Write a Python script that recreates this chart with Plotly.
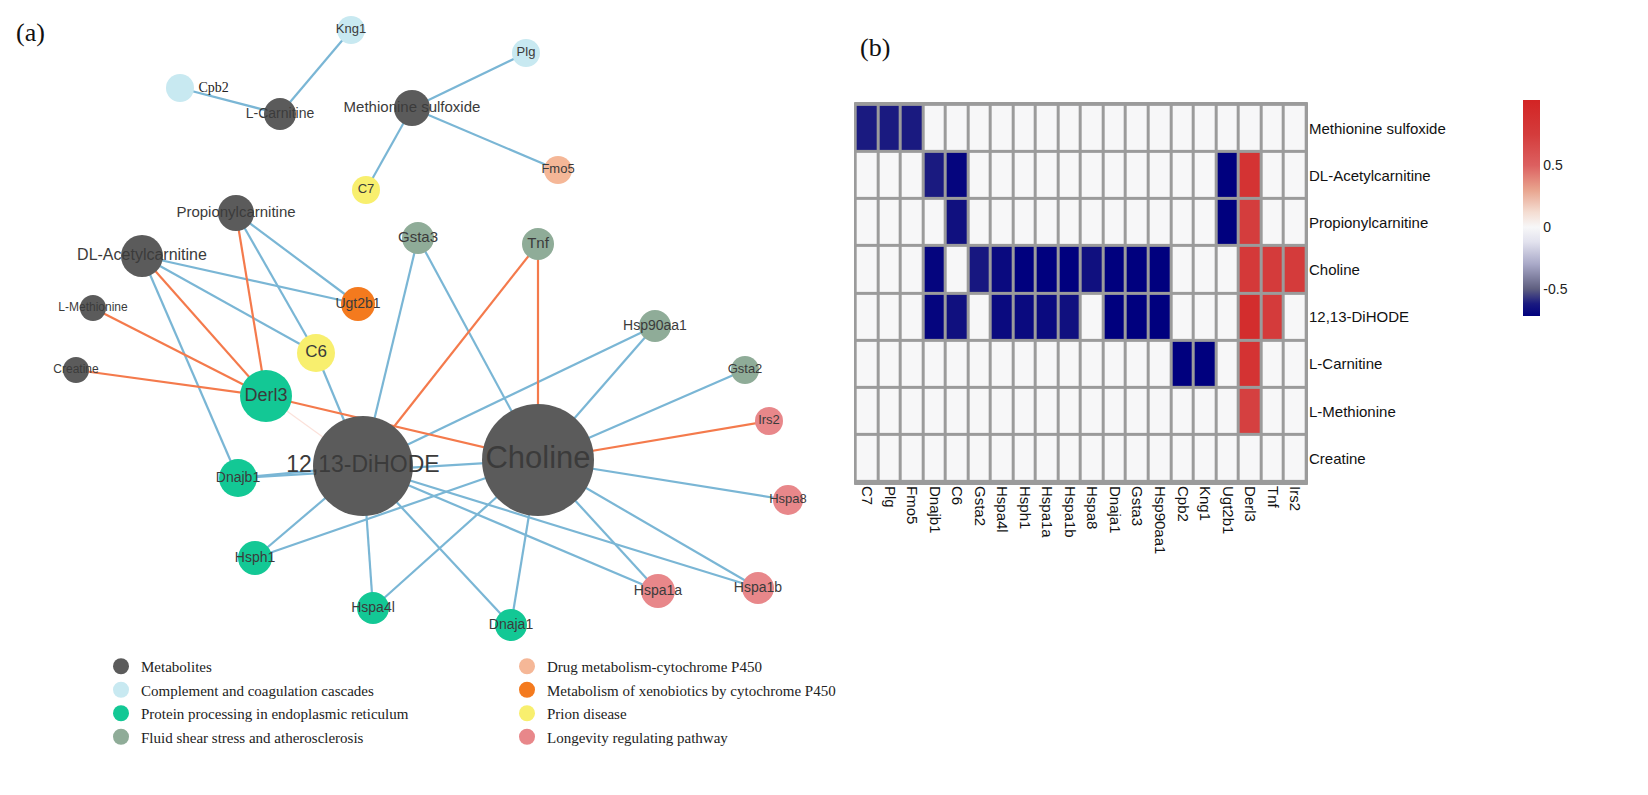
import plotly.graph_objects as go

W, H = 1648, 795

# ---------------- (a) network data ----------------
node_names = ["L-Carnitine", "Methionine sulfoxide", "Propionylcarnitine", "DL-Acetylcarnitine",
              "L-Methionine", "Creatine", "12,13-DiHODE", "Choline",
              "Kng1", "Cpb2", "Plg", "C7", "Fmo5", "Gsta3", "Tnf", "Ugt2b1", "C6", "Hsp90aa1",
              "Gsta2", "Derl3", "Irs2", "Dnajb1", "Hspa8", "Hsph1", "Hspa1a", "Hspa1b", "Hspa4l", "Dnaja1"]
node_x = [272, 404, 228, 134, 85, 68, 355, 530,
          343, 172, 518, 358, 550, 410, 530, 350, 308, 647,
          737, 258, 761, 230, 780, 247, 650, 750, 365, 503]
node_y = [106, 100, 205, 248, 300, 362, 458, 452,
          22, 80, 45, 182, 162, 230, 236, 296, 345, 318,
          362, 388, 413, 470, 492, 550, 583, 580, 600, 617]
node_diam = [32, 36, 36, 42, 26, 26, 100, 112,
             28, 28, 28, 28, 28, 32, 32, 34, 38, 32,
             28, 52, 28, 38, 30, 34, 34, 32, 32, 32]
node_group = [0, 0, 0, 0, 0, 0, 0, 0,
              1, 1, 1, 6, 4, 3, 3, 5, 6, 3,
              3, 2, 7, 2, 7, 2, 7, 7, 2, 2]
label_size = [14, 15, 15, 16, 12, 12, 23, 31,
              13, 14, 13, 13, 13, 15, 15, 14, 17, 14,
              13, 18, 13, 14, 13, 14, 14, 14, 14, 14]

group_names = ["Metabolites", "Complement and coagulation cascades",
               "Protein processing in endoplasmic reticulum", "Fluid shear stress and atherosclerosis",
               "Drug metabolism-cytochrome P450", "Metabolism of xenobiotics by cytochrome P450",
               "Prion disease", "Longevity regulating pathway"]
group_colors = ["#5b5b5b", "#c8e9f1", "#13c895", "#8fac98",
                "#f5b797", "#f47a1e", "#f8ef6e", "#e8878a"]

edge_a = ["Cpb2", "Kng1", "Plg", "C7", "Fmo5",
          "Ugt2b1", "C6", "Derl3",
          "Ugt2b1", "C6", "Derl3", "Dnajb1",
          "Derl3", "Derl3", "Derl3", "Derl3",
          "C6", "Gsta3", "Gsta3", "Tnf", "Tnf",
          "Hsp90aa1", "Hsp90aa1", "Gsta2", "Irs2", "Hspa8",
          "Hspa1b", "Hspa1b", "Hspa1a", "Hspa1a",
          "Dnaja1", "Dnaja1", "Hspa4l", "Hspa4l",
          "Hsph1", "Hsph1", "Dnajb1", "Dnajb1"]
edge_b = ["L-Carnitine", "L-Carnitine", "Methionine sulfoxide", "Methionine sulfoxide", "Methionine sulfoxide",
          "Propionylcarnitine", "Propionylcarnitine", "Propionylcarnitine",
          "DL-Acetylcarnitine", "DL-Acetylcarnitine", "DL-Acetylcarnitine", "DL-Acetylcarnitine",
          "L-Methionine", "Creatine", "Choline", "12,13-DiHODE",
          "12,13-DiHODE", "12,13-DiHODE", "Choline", "12,13-DiHODE", "Choline",
          "12,13-DiHODE", "Choline", "Choline", "Choline", "Choline",
          "Choline", "12,13-DiHODE", "Choline", "12,13-DiHODE",
          "Choline", "12,13-DiHODE", "12,13-DiHODE", "Choline",
          "12,13-DiHODE", "Choline", "12,13-DiHODE", "Choline"]
edge_sign = [-1, -1, -1, -1, -1,
             -1, -1, 1,
             -1, -1, 1, -1,
             1, 1, 1, 0,
             -1, -1, -1, 1, 1,
             -1, -1, -1, 1, -1,
             -1, -1, -1, -1,
             -1, -1, -1, -1,
             -1, -1, -1, -1]

# ---------------- (b) heatmap data ----------------
genes = ["C7", "Plg", "Fmo5", "Dnajb1", "C6", "Gsta2", "Hspa4l", "Hsph1", "Hspa1a", "Hspa1b",
         "Hspa8", "Dnaja1", "Gsta3", "Hsp90aa1", "Cpb2", "Kng1", "Ugt2b1", "Derl3", "Tnf", "Irs2"]
metabolites = ["Methionine sulfoxide", "DL-Acetylcarnitine", "Propionylcarnitine", "Choline",
               "12,13-DiHODE", "L-Carnitine", "L-Methionine", "Creatine"]
corr_methionine_sulfoxide = [-0.62, -0.62, -0.62, 0, 0, 0, 0, 0, 0, 0, 0, 0, 0, 0, 0, 0, 0, 0, 0, 0]
corr_dl_acetylcarnitine = [0, 0, 0, -0.62, -0.70, 0, 0, 0, 0, 0, 0, 0, 0, 0, 0, 0, -0.72, 0.85, 0, 0]
corr_propionylcarnitine = [0, 0, 0, 0, -0.66, 0, 0, 0, 0, 0, 0, 0, 0, 0, 0, 0, -0.72, 0.74, 0, 0]
corr_choline = [0, 0, 0, -0.70, 0, -0.63, -0.68, -0.72, -0.72, -0.72, -0.66, -0.72, -0.72, -0.72, 0, 0, 0, 0.78, 0.76, 0.76]
corr_dihode = [0, 0, 0, -0.70, -0.66, 0, -0.68, -0.68, -0.68, -0.66, 0, -0.72, -0.72, -0.72, 0, 0, 0, 0.92, 0.76, 0]
corr_l_carnitine = [0, 0, 0, 0, 0, 0, 0, 0, 0, 0, 0, 0, 0, 0, -0.72, -0.72, 0, 0.86, 0, 0]
corr_l_methionine = [0, 0, 0, 0, 0, 0, 0, 0, 0, 0, 0, 0, 0, 0, 0, 0, 0, 0.72, 0, 0]
corr_creatine = [0, 0, 0, 0, 0, 0, 0, 0, 0, 0, 0, 0, 0, 0, 0, 0, 0, 0, 0, 0]
cbar_ticks = [-0.5, 0, 0.5]
cbar_ticktext = ["-0.5", "0", "0.5"]

# ---------------- build figure ----------------
fig = go.Figure()
pos = {n: (x, y) for n, x, y in zip(node_names, node_x, node_y)}


def edge_xy(sign):
    xs, ys = [], []
    for a, b, s in zip(edge_a, edge_b, edge_sign):
        if s == sign:
            xs += [pos[a][0], pos[b][0], None]
            ys += [pos[a][1], pos[b][1], None]
    return xs, ys


edge_styles = {-1: ("#7ab6d5", 2.2), 1: ("#f47a4c", 2.2), 0: ("rgba(244,170,150,0.35)", 1.2)}
for s in (0, -1, 1):
    ex, ey = edge_xy(s)
    col, wd = edge_styles[s]
    fig.add_trace(go.Scatter(x=ex, y=ey, mode="lines", line=dict(color=col, width=wd),
                             hoverinfo="skip", showlegend=False, xaxis="x", yaxis="y"))

for gi, (gname, gcol) in enumerate(zip(group_names, group_colors)):
    idx = [i for i, g in enumerate(node_group) if g == gi]
    fig.add_trace(go.Scatter(
        x=[node_x[i] for i in idx], y=[node_y[i] for i in idx], mode="markers",
        marker=dict(size=[node_diam[i] for i in idx], color=gcol, line=dict(width=0), opacity=1),
        hovertext=[node_names[i] for i in idx], hoverinfo="text",
        showlegend=False, xaxis="x", yaxis="y", cliponaxis=False))
    # legend entry
    fig.add_trace(go.Scatter(
        x=[None], y=[None], mode="markers", name=gname,
        marker=dict(size=20, color=gcol), xaxis="x", yaxis="y",
        legend="legend" if gi < 4 else "legend2", legendgroup=gname, showlegend=True))

text_pos = ["middle right" if n == "Cpb2" else "middle center" for n in node_names]
text_family = ["Liberation Serif" if n == "Cpb2" else "Liberation Sans" for n in node_names]
text_color = ["#222222" if n == "Cpb2" else "#3b3b3b" for n in node_names]
fig.add_trace(go.Scatter(
    x=node_x, y=node_y, mode="markers+text", text=node_names, textposition=text_pos,
    marker=dict(size=node_diam, opacity=0),
    textfont=dict(size=label_size, family=text_family, color=text_color),
    hoverinfo="skip", showlegend=False, xaxis="x", yaxis="y", cliponaxis=False))

z = [corr_methionine_sulfoxide, corr_dl_acetylcarnitine, corr_propionylcarnitine, corr_choline,
     corr_dihode, corr_l_carnitine, corr_l_methionine, corr_creatine]
zmin, zmax = -0.72, 1.03


def nz(v):
    return (v - zmin) / (zmax - zmin)


colorscale = [
    [0.0, "#00007e"],
    [nz(-0.62), "#1a1a80"],
    [nz(-0.5), "#5f5f80"],
    [nz(-0.3), "#a9a9c8"],
    [nz(-0.12), "#e2e2ee"],
    [nz(0.0), "#f7f7f8"],
    [nz(0.12), "#f4ddd2"],
    [nz(0.3), "#e8a48e"],
    [nz(0.5), "#dc6060"],
    [nz(0.75), "#d43c3c"],
    [1.0, "#d32424"],
]

fig.add_trace(go.Heatmap(
    z=z, x=genes, y=metabolites, zmin=zmin, zmax=zmax, colorscale=colorscale,
    xgap=3, ygap=3, xaxis="x2", yaxis="y2", hoverongaps=False,
    colorbar=dict(x=1505 / W, xanchor="left", y=1 - 82 / H, yanchor="top",
                  len=236 / H, lenmode="fraction", thickness=17, outlinewidth=0,
                  tickvals=cbar_ticks, ticktext=cbar_ticktext, ticks="",
                  tickfont=dict(family="Liberation Sans", size=14, color="#222"))))

fig.add_shape(type="rect", xref="x2", yref="y2", x0=-0.55, x1=len(genes) - 0.45,
              y0=-0.55, y1=len(metabolites) - 0.45, fillcolor="#9b9b9b",
              line=dict(color="#9b9b9b", width=1), layer="below")

fig.update_layout(
    width=W, height=H, margin=dict(l=0, r=0, t=0, b=0),
    paper_bgcolor="white", plot_bgcolor="white",
    xaxis=dict(domain=[0, 830 / W], range=[0, 830], visible=False, fixedrange=True),
    yaxis=dict(domain=[0, 1], range=[H, 0], visible=False, fixedrange=True),
    xaxis2=dict(domain=[846 / W, 1300 / W], anchor="y2", showgrid=False, zeroline=False,
                tickangle=90, ticks="", tickfont=dict(family="Liberation Sans", size=15, color="#111")),
    yaxis2=dict(domain=[1 - 477 / H, 1 - 94 / H], anchor="x2", side="right", autorange="reversed",
                showgrid=False, zeroline=False, ticks="",
                tickfont=dict(family="Liberation Sans", size=15, color="#111")),
    legend=dict(x=93 / W, y=1 - 642 / H, xanchor="left", yanchor="top", traceorder="grouped",
                tracegroupgap=1, font=dict(family="Liberation Serif", size=15, color="#222"),
                itemsizing="trace", bgcolor="rgba(0,0,0,0)"),
    legend2=dict(x=499 / W, y=1 - 642 / H, xanchor="left", yanchor="top", traceorder="grouped",
                 tracegroupgap=1, font=dict(family="Liberation Serif", size=15, color="#222"),
                 itemsizing="trace", bgcolor="rgba(0,0,0,0)"),
    annotations=[
        dict(text="(a)", x=6 / W, y=1 - 25 / H, xref="paper", yref="paper", xanchor="left",
             yanchor="middle", showarrow=False, font=dict(family="Liberation Serif", size=26, color="#111")),
        dict(text="(b)", x=850 / W, y=1 - 40 / H, xref="paper", yref="paper", xanchor="left",
             yanchor="middle", showarrow=False, font=dict(family="Liberation Serif", size=26, color="#111")),
    ],
)

fig.write_html("out.html")
